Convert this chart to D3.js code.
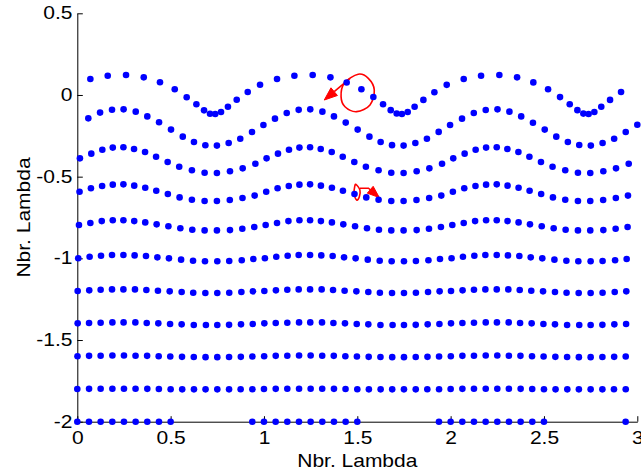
<!DOCTYPE html>
<html><head><meta charset="utf-8">
<script src="https://cdn.jsdelivr.net/npm/d3@7"></script>
<style>body{margin:0;background:#fff;} svg{display:block;}</style>
</head><body>
<svg id="chart" width="641" height="475"></svg>
<script>
// ---------- data ----------
const xTicks = [0, 0.5, 1, 1.5, 2, 2.5, 3];
const yTicks = [-2, -1.5, -1, -0.5, 0, 0.5];
const xTickLabels = ["0", "0.5", "1", "1.5", "2", "2.5", "3"];
const yTickLabels = ["-2", "-1.5", "-1", "-0.5", "0", "0.5"];
const xLabel = "Nbr. Lambda";
const yLabel = "Nbr. Lambda";

const row0X = [0.070,0.163,0.261,0.356,0.443,0.522,0.586,0.638,0.679,0.711,0.739,0.770,0.807,0.854,0.913,0.979,
  1.070,1.163,1.261,1.356,1.443,1.522,1.586,1.638,1.679,1.711,1.739,1.770,1.807,1.854,1.913,1.979,
  2.070,2.163,2.261,2.356,2.443,2.522,2.586,2.638,2.679,2.711,2.739,2.770,2.807,2.854,2.913];
const row0Y = [0.098,0.118,0.122,0.108,0.078,0.035,-0.014,-0.057,-0.094,-0.115,-0.116,-0.104,-0.072,-0.029,0.018,0.063,
  0.098,0.118,0.122,0.108,0.076,0.035,-0.012,-0.057,-0.093,-0.113,-0.116,-0.104,-0.072,-0.030,0.017,0.062,
  0.098,0.118,0.122,0.108,0.077,0.035,-0.013,-0.057,-0.093,-0.114,-0.116,-0.104,-0.072,-0.030,0.018];

const row1X = [0.059,0.122,0.186,0.248,0.313,0.375,0.438,0.502,0.565,0.625,0.686,0.748,0.811,0.873,0.936,0.997,
  1.059,1.122,1.186,1.248,1.313,1.375,1.438,1.502,1.565,1.625,1.686,1.748,1.811,1.873,1.936,1.997,
  2.061,2.124,2.188,2.251,2.315,2.378,2.441,2.504,2.566,2.628,2.689,2.751,2.814,2.876,2.938,3.000];
const row1Y = [-0.143,-0.108,-0.090,-0.088,-0.102,-0.131,-0.167,-0.212,-0.255,-0.288,-0.308,-0.310,-0.294,-0.268,-0.227,-0.184,
  -0.145,-0.110,-0.091,-0.088,-0.102,-0.131,-0.169,-0.212,-0.255,-0.288,-0.307,-0.310,-0.294,-0.268,-0.226,-0.184,
  -0.145,-0.110,-0.092,-0.088,-0.102,-0.131,-0.170,-0.212,-0.255,-0.288,-0.306,-0.310,-0.294,-0.268,-0.227,-0.182];

const row2X = [0.014,0.075,0.134,0.190,0.247,0.304,0.363,0.422,0.484,0.546,0.614,0.682,0.748,0.818,0.886,0.954,
  1.014,1.075,1.134,1.190,1.247,1.304,1.363,1.422,1.484,1.546,1.614,1.682,1.748,1.818,1.886,1.954,
  2.014,2.075,2.134,2.190,2.247,2.304,2.363,2.422,2.484,2.546,2.614,2.682,2.748,2.818,2.886,2.954];
const row2Y = [-0.388,-0.359,-0.335,-0.322,-0.320,-0.331,-0.349,-0.378,-0.410,-0.439,-0.461,-0.476,-0.478,-0.467,-0.449,-0.421,
  -0.388,-0.359,-0.335,-0.322,-0.320,-0.331,-0.349,-0.378,-0.410,-0.439,-0.461,-0.476,-0.478,-0.467,-0.449,-0.421,
  -0.388,-0.359,-0.335,-0.322,-0.320,-0.331,-0.349,-0.378,-0.410,-0.439,-0.461,-0.476,-0.478,-0.467,-0.449,-0.421];

const row3X = [0.012,0.073,0.133,0.190,0.247,0.305,0.364,0.423,0.485,0.548,0.614,0.682,0.748,0.817,0.885,0.950,
  1.012,1.073,1.133,1.190,1.247,1.305,1.364,1.423,1.485,1.548,1.614,1.682,1.748,1.817,1.885,1.950,
  2.012,2.073,2.133,2.190,2.247,2.305,2.364,2.423,2.485,2.548,2.614,2.682,2.748,2.817,2.885,2.950];
const row3Y = [-0.592,-0.571,-0.557,-0.549,-0.547,-0.555,-0.568,-0.586,-0.606,-0.627,-0.641,-0.649,-0.649,-0.643,-0.631,-0.616,
  -0.592,-0.571,-0.557,-0.549,-0.547,-0.555,-0.568,-0.586,-0.606,-0.627,-0.641,-0.649,-0.649,-0.643,-0.631,-0.616,
  -0.592,-0.571,-0.557,-0.549,-0.547,-0.555,-0.568,-0.586,-0.606,-0.627,-0.641,-0.649,-0.649,-0.643,-0.631,-0.616];

const row4X = [0.009,0.070,0.131,0.190,0.247,0.305,0.364,0.425,0.488,0.552,0.616,0.682,0.748,0.818,0.884,0.948,
  1.009,1.070,1.131,1.190,1.247,1.305,1.364,1.425,1.488,1.552,1.616,1.682,1.748,1.818,1.884,1.948,
  2.009,2.070,2.131,2.190,2.247,2.305,2.364,2.425,2.488,2.552,2.616,2.682,2.748,2.818,2.884,2.948];
const row4Y = [-0.796,-0.784,-0.772,-0.767,-0.767,-0.772,-0.780,-0.792,-0.804,-0.816,-0.825,-0.829,-0.829,-0.827,-0.819,-0.808,
  -0.796,-0.784,-0.772,-0.767,-0.767,-0.772,-0.780,-0.792,-0.804,-0.816,-0.825,-0.829,-0.829,-0.827,-0.819,-0.808,
  -0.796,-0.784,-0.772,-0.767,-0.767,-0.772,-0.780,-0.792,-0.804,-0.816,-0.825,-0.829,-0.829,-0.827,-0.819,-0.808];

const row5X = [0.005,0.066,0.127,0.186,0.247,0.307,0.368,0.429,0.491,0.556,0.620,0.684,0.750,0.814,0.881,0.943,
  1.005,1.066,1.127,1.186,1.247,1.307,1.368,1.429,1.491,1.556,1.620,1.684,1.750,1.814,1.881,1.943,
  2.005,2.066,2.127,2.186,2.247,2.307,2.368,2.429,2.491,2.556,2.620,2.684,2.750,2.814,2.881,2.943];
const row5Y = [-0.999,-0.990,-0.984,-0.980,-0.980,-0.982,-0.986,-0.994,-1.000,-1.008,-1.015,-1.018,-1.018,-1.016,-1.012,-1.004,
  -0.999,-0.990,-0.984,-0.980,-0.980,-0.982,-0.986,-0.994,-1.000,-1.008,-1.015,-1.018,-1.018,-1.016,-1.012,-1.004,
  -0.999,-0.990,-0.984,-0.980,-0.980,-0.982,-0.986,-0.994,-1.000,-1.008,-1.015,-1.018,-1.018,-1.016,-1.012,-1.004];

const row6X = [0.002,0.064,0.125,0.186,0.247,0.309,0.370,0.432,0.495,0.559,0.621,0.686,0.750,0.814,0.879,0.941,
  1.002,1.064,1.125,1.186,1.247,1.309,1.370,1.432,1.495,1.559,1.621,1.686,1.750,1.814,1.879,1.941,
  2.002,2.064,2.125,2.186,2.247,2.309,2.370,2.432,2.495,2.559,2.621,2.686,2.750,2.814,2.879,2.941];
const row6Y = [-1.200,-1.196,-1.192,-1.190,-1.190,-1.190,-1.194,-1.198,-1.202,-1.206,-1.211,-1.212,-1.212,-1.211,-1.206,-1.202,
  -1.200,-1.196,-1.192,-1.190,-1.190,-1.190,-1.194,-1.198,-1.202,-1.206,-1.211,-1.212,-1.212,-1.211,-1.206,-1.202,
  -1.200,-1.196,-1.192,-1.190,-1.190,-1.190,-1.194,-1.198,-1.202,-1.206,-1.211,-1.212,-1.212,-1.211,-1.206,-1.202];

const row7X = [0.002,0.063,0.125,0.188,0.248,0.311,0.372,0.434,0.497,0.559,0.624,0.689,0.750,0.813,0.877,0.940,
  1.002,1.063,1.125,1.188,1.248,1.311,1.372,1.434,1.497,1.559,1.624,1.689,1.750,1.813,1.877,1.940,
  2.002,2.063,2.125,2.188,2.248,2.311,2.372,2.434,2.497,2.559,2.624,2.689,2.750,2.813,2.877,2.940];
const row7Y = [-1.398,-1.396,-1.394,-1.392,-1.392,-1.392,-1.396,-1.398,-1.402,-1.404,-1.408,-1.408,-1.408,-1.407,-1.404,-1.402,
  -1.398,-1.396,-1.394,-1.392,-1.392,-1.392,-1.396,-1.398,-1.402,-1.404,-1.408,-1.408,-1.408,-1.407,-1.404,-1.402,
  -1.398,-1.396,-1.394,-1.392,-1.392,-1.392,-1.396,-1.398,-1.402,-1.404,-1.408,-1.408,-1.408,-1.407,-1.404,-1.402];

const row8X = [0.001,0.063,0.125,0.188,0.250,0.312,0.374,0.436,0.498,0.561,0.624,0.687,0.750,0.813,0.876,0.938,
  1.001,1.063,1.125,1.188,1.250,1.312,1.374,1.436,1.498,1.561,1.624,1.687,1.750,1.813,1.876,1.938,
  2.001,2.063,2.125,2.188,2.250,2.312,2.374,2.436,2.498,2.561,2.624,2.687,2.750,2.813,2.876,2.938];
const row8Y = [-1.599,-1.597,-1.596,-1.595,-1.595,-1.596,-1.597,-1.599,-1.601,-1.603,-1.604,-1.605,-1.605,-1.604,-1.603,-1.601,
  -1.599,-1.597,-1.596,-1.595,-1.595,-1.596,-1.597,-1.599,-1.601,-1.603,-1.604,-1.605,-1.605,-1.604,-1.603,-1.601,
  -1.599,-1.597,-1.596,-1.595,-1.595,-1.596,-1.597,-1.599,-1.601,-1.603,-1.604,-1.605,-1.605,-1.604,-1.603,-1.601];

const row9X = [0.000,0.063,0.125,0.188,0.250,0.312,0.375,0.437,0.500,0.562,0.625,0.687,0.750,0.813,0.875,0.938,
  1.000,1.063,1.125,1.188,1.250,1.312,1.375,1.437,1.500,1.562,1.625,1.687,1.750,1.813,1.875,1.938,
  2.000,2.063,2.125,2.188,2.250,2.312,2.375,2.437,2.500,2.562,2.625,2.687,2.750,2.813,2.875,2.938];
const row9Y = [-1.800,-1.799,-1.798,-1.798,-1.798,-1.798,-1.799,-1.800,-1.801,-1.802,-1.802,-1.802,-1.802,-1.802,-1.801,-1.801,
  -1.800,-1.799,-1.798,-1.798,-1.798,-1.798,-1.799,-1.800,-1.801,-1.802,-1.802,-1.802,-1.802,-1.802,-1.801,-1.801,
  -1.800,-1.799,-1.798,-1.798,-1.798,-1.798,-1.799,-1.800,-1.801,-1.802,-1.802,-1.802,-1.802,-1.802,-1.801,-1.801];

const row10X = [0.000,0.0625,0.125,0.1875,0.250,0.3125,0.375,0.4375,0.500,
  0.9375,1.000,1.0625,1.125,1.1875,1.250,1.3125,1.375,1.4375,1.500,
  1.9375,2.000,2.0625,2.125,2.1875,2.250,2.3125,2.375,2.4375,2.500,
  2.9375];
const row10Y = [-2,-2,-2,-2,-2,-2,-2,-2,-2,
  -2,-2,-2,-2,-2,-2,-2,-2,-2,-2,
  -2,-2,-2,-2,-2,-2,-2,-2,-2,-2,
  -2];

// red particle paths
const loopTopX = [1.505,1.559,1.591,1.568,1.497,1.434,1.413,1.430];
const loopTopY = [0.127,0.102,0.031,-0.061,-0.102,-0.072,-0.010,0.072];
const arrowTopX = [1.461,1.323];
const arrowTopY = [0.102,-0.031];
const loopMidX = [1.493,1.514,1.511,1.497,1.483,1.486];
const loopMidY = [-0.547,-0.582,-0.623,-0.643,-0.602,-0.561];
const arrowMidX = [1.514,1.560,1.618];
const arrowMidY = [-0.571,-0.571,-0.628];

// ---------- drawing ----------
const rows = [[row0X,row0Y],[row1X,row1Y],[row2X,row2Y],[row3X,row3Y],[row4X,row4Y],[row5X,row5Y],
  [row6X,row6Y],[row7X,row7Y],[row8X,row8Y],[row9X,row9Y],[row10X,row10Y]];

const svg = d3.select("#chart");
const x = d3.scaleLinear().domain([0, 3]).range([77.3, 637.3]);
const y = d3.scaleLinear().domain([-2, 0.5]).range([421.7, 13.3]);
const FONT = "'Liberation Sans', Arial, Helvetica, sans-serif";
const FS = 17.5, SX = 1.2;

// axes
const gx = svg.append("g").attr("transform", `translate(0,${y(-2)})`)
  .call(d3.axisBottom(x).tickValues(xTicks).tickSizeInner(-5.5).tickSizeOuter(0).tickPadding(10)
    .tickFormat((d, i) => xTickLabels[i]));
const gy = svg.append("g").attr("transform", `translate(${x(0)},0)`)
  .call(d3.axisLeft(y).tickValues(yTicks).tickSizeInner(-5.5).tickSizeOuter(0).tickPadding(4)
    .tickFormat((d, i) => yTickLabels[i]));
[gx, gy].forEach(g => {
  g.select(".domain").attr("stroke", "#000").attr("stroke-width", 1);
  g.selectAll(".tick line").attr("stroke", "#000").attr("stroke-width", 1);
  g.selectAll(".tick text").attr("fill", "#000").attr("font-family", FONT).attr("font-size", FS)
    .attr("transform", `scale(${SX},1)`);
});

svg.append("text").attr("transform", `translate(${x(1.5)},466.7) scale(${SX},1)`)
  .attr("text-anchor", "middle").attr("font-family", FONT).attr("font-size", FS).attr("fill", "#000")
  .text(xLabel);
svg.append("text").attr("transform", `translate(30,${(y(-2)+y(0.5))/2}) rotate(-90) scale(${SX},1)`)
  .attr("text-anchor", "middle").attr("font-family", FONT).attr("font-size", FS).attr("fill", "#000")
  .text(yLabel);

// red trajectories
const red = "#ff0000";
function pts(xs, ys) { return xs.map((v, i) => [x(v), y(ys[i])]); }
svg.append("path").attr("d", d3.line().curve(d3.curveCardinalClosed.tension(0))(pts(loopTopX, loopTopY)))
  .attr("fill", "none").attr("stroke", red).attr("stroke-width", 1.6);
svg.append("path").attr("d", d3.line().curve(d3.curveCardinalClosed.tension(0))(pts(loopMidX, loopMidY)))
  .attr("fill", "none").attr("stroke", red).attr("stroke-width", 1.6);
function arrow(xs, ys, L, W) {
  const p = pts(xs, ys);
  const T = p[p.length - 1], P = p[p.length - 2];
  const dx = T[0] - P[0], dy = T[1] - P[1], len = Math.hypot(dx, dy);
  const ux = dx / len, uy = dy / len;
  const B = [T[0] - ux * L, T[1] - uy * L];
  const line = p.slice(0, -1).concat([B]);
  svg.append("path").attr("d", d3.line()(line)).attr("fill", "none").attr("stroke", red).attr("stroke-width", 1.6);
  svg.append("path").attr("d", d3.line()([T, [B[0] - uy * W, B[1] + ux * W], [B[0] + uy * W, B[1] - ux * W]]) + "Z")
    .attr("fill", red).attr("stroke", red).attr("stroke-width", 1);
}
arrow(arrowTopX, arrowTopY, 13, 5);
arrow(arrowMidX, arrowMidY, 12, 4.5);

// particles
rows.forEach(([xs, ys]) => {
  svg.append("g").selectAll("circle").data(xs.map((v, i) => [v, ys[i]])).join("circle")
    .attr("cx", d => x(d[0])).attr("cy", d => y(d[1])).attr("r", 3.3).attr("fill", "#0000ff");
});
</script>
</body></html>
